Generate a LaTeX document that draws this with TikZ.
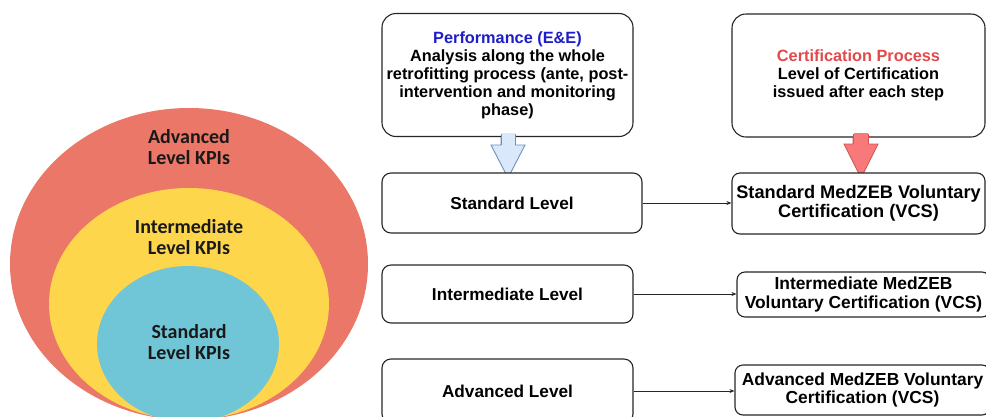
\documentclass[tikz,border=0pt]{standalone}
\usepackage{fontspec}
\setmainfont{Liberation Sans}
\newfontfamily\kpifont{Carlito}
\usetikzlibrary{arrows.meta,calc}

\definecolor{kpired}{HTML}{EA7767}
\definecolor{kpiyellow}{HTML}{FDD64C}
\definecolor{kpiblue}{HTML}{70C5D7}
\definecolor{perfblue}{HTML}{1E1EC8}
\definecolor{certred}{HTML}{E24A4A}
\definecolor{arrbluefill}{HTML}{DAE8FC}
\definecolor{arrblueline}{HTML}{6C8EBF}
\definecolor{arrredfill}{HTML}{F8797A}
\definecolor{arrredline}{HTML}{D9534F}

\begin{document}
\begin{tikzpicture}[x=1pt,y=-1pt,
  bigbox/.style={draw=black!85, line width=1.1pt, fill=white, rounded corners=14pt,
    align=center, inner sep=0pt, minimum width=251pt, minimum height=123pt,
    font=\bfseries\fontsize{16.3}{18}\selectfont},
  lvlbox/.style={draw=black!85, line width=1.1pt, fill=white, rounded corners=9pt,
    align=center, inner sep=0pt, font=\bfseries\fontsize{17.2}{19}\selectfont},
  certbox/.style={draw=black!85, line width=1.1pt, fill=white, rounded corners=8pt,
    align=center, inner sep=0pt, font=\bfseries\fontsize{17.4}{18.5}\selectfont},
  kpilabel/.style={align=center, inner sep=0pt, text=black!90,
    font=\kpifont\bfseries\fontsize{20}{21}\selectfont},
  link/.style={draw=black!85, line width=0.8pt, -{Stealth[length=5pt,width=4pt]}},
  blockblue/.style={fill=arrbluefill, draw=arrblueline, line width=0.9pt, line join=miter},
  blockred/.style={fill=arrredfill, draw=arrredline, line width=0.9pt, line join=miter}
]
\useasboundingbox (0,0) rectangle (986,416);
\clip (0,0) rectangle (986,416);

% nested KPI levels
\fill[kpired] (189,264) ellipse [x radius=179pt, y radius=156pt];
\fill[kpiyellow] (189,304) ellipse [x radius=140pt, y radius=116pt];
\fill[kpiblue] (188,344) ellipse [x radius=91pt, y radius=78pt];

\node[kpilabel] (kadv) at (189,147.5) {Advanced\\Level KPIs};
\node[kpilabel] (kint) at (189,237.5) {Intermediate\\Level KPIs};
\node[kpilabel] (kstd) at (189,342) {Standard\\Level KPIs};

% block arrows (drawn first so the box outlines sit on top)
\draw[blockblue] (501,134) -- (501,145) -- (491,145) -- (508,178) -- (525,145) -- (515,145) -- (515,134);
\draw[blockred] (853,134) -- (853,144) -- (844,144) -- (861,178) -- (878,144) -- (868,144) -- (868,134);

% header boxes
\node[bigbox] (perf) at (507.5,75)
  {\textcolor{perfblue}{Performance (E\&E)}\\Analysis along the whole\\retrofitting process (ante, post-\\intervention and monitoring\\phase)};
\node[bigbox, minimum width=253pt] (cert) at (858.5,75.5)
  {\textcolor{certred}{Certification Process}\\Level of Certification\\issued after each step};

% redraw the arrow shafts over the header box bottoms
\fill[arrbluefill] (501.5,133) rectangle (514.5,145.5);
\draw[arrblueline, line width=0.9pt] (501,134) -- (501,145) (515,134) -- (515,145);
\fill[arrredfill] (853.5,133) rectangle (867.5,144.5);
\draw[arrredline, line width=0.9pt] (853,134) -- (853,144) (868,134) -- (868,144);

% level boxes
\node[lvlbox, minimum width=260pt, minimum height=60pt] (std) at (512,203) {Standard Level};
\node[lvlbox, minimum width=251pt, minimum height=58pt] (int) at (507.5,294) {Intermediate Level};
\node[lvlbox, minimum width=251pt, minimum height=64pt] (adv) at (507.5,391) {Advanced Level};

% certification boxes
\node[certbox, font=\bfseries\fontsize{18.2}{19.5}\selectfont, minimum width=253pt, minimum height=61pt] (stdc) at (858.5,203.5)
  {Standard MedZEB Voluntary\\Certification (VCS)};
\node[certbox, minimum width=253pt, minimum height=45pt] (intc) at (863.5,294.5)
  {Intermediate MedZEB\\Voluntary Certification (VCS)};
\node[certbox, minimum width=255pt, minimum height=50pt] (advc) at (862.5,390)
  {Advanced MedZEB Voluntary\\Certification (VCS)};

% links
\draw[link] (std.east) -- (std.east -| stdc.west);
\draw[link] (int.east) -- (int.east -| intc.west);
\draw[link] (adv.east) -- (adv.east -| advc.west);
\end{tikzpicture}
\end{document}
